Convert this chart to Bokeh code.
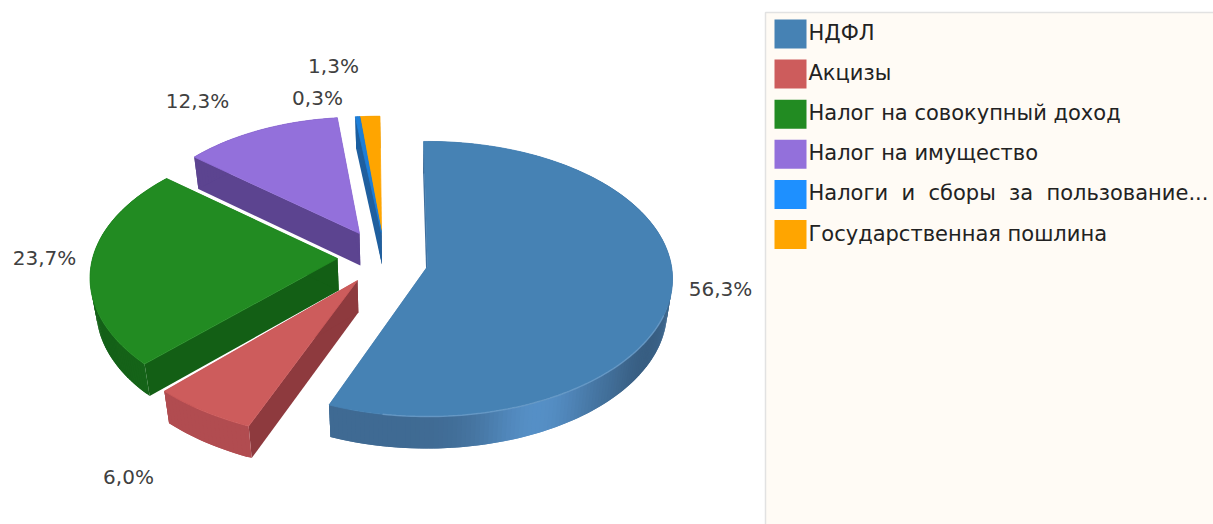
import math
from bokeh.plotting import figure
from bokeh.embed import file_html
from bokeh.resources import INLINE
from bokeh.core.properties import value

categories = ["НДФЛ", "Акцизы", "Налог на совокупный доход", "Налог на имущество",
              "Налоги \u00a0и \u00a0сборы \u00a0за \u00a0пользование...", "Государственная пошлина"]
shares = [56.3, 6.0, 23.7, 12.3, 0.3, 1.3]
share_labels = ["56,3%", "6,0%", "23,7%", "12,3%", "0,3%", "1,3%"]

top_colors = ["#4682B4", "#CD5C5C", "#228B22", "#9370DB", "#1E7FD8", "#FFA500"]
legend_colors = ["#4682B4", "#CD5C5C", "#228B22", "#9370DB", "#1E90FF", "#FFA500"]
arc_colors = ["#4a7cab", "#b14c50", "#18701c", "#5c4490", "#1a5ea0", "#c08a20"]
cut_colors = ["#3f6f9e", "#8e3a3e", "#135f15", "#5c4490", "#1f5f9f", "#55606a"]

# layout of the exploded pie, in page pixels
apex_x = [427, 357, 337, 359, 381, 381]
apex_y = [266, 280, 258, 233, 232, 232]
rim_dy = [0, 0, 7, 0, 0, 0]
rot_deg = [-1, 0, 3, 0, 0, 0]
scale_x = [1.0, 1.06, 1.01, 0.93, 1.1, 1.1]
scale_y = [1.0, 1.06, 1.0, 0.93, 0.93, 0.93]
label_x = [720, 128, 44, 197, 317, 333]
label_y = [288, 476, 257, 100, 97, 65]
RX, RY, PERSP, DEPTH = 244, 136.4, 0.0909, 32
DRAW_ORDER = [3, 5, 4, 2, 1, 0]


def mix(col, f):
    r, g, b = int(col[1:3], 16), int(col[3:5], 16), int(col[5:7], 16)
    return "#%02x%02x%02x" % tuple(min(255, int(c * f)) for c in (r, g, b))


def project(i, t):
    t = t + math.radians(rot_deg[i])
    u, v = math.sin(t), math.cos(t)
    s = 1 / (1 + PERSP * v)
    return (apex_x[i] + scale_x[i] * RX * u * s,
            apex_y[i] + rim_dy[i] - scale_y[i] * RY * v * s)


def drop(p):
    return (p[0] + 0.02 * (400 - p[0]), p[1] + DEPTH)


def arc_shade(i, t):
    if i == 0:
        u = math.sin(t)
        return 0.86 + 0.30 * math.exp(-((u - 0.40) / 0.22) ** 2) - 0.10 * math.exp(-((u - 0.85) / 0.12) ** 2)
    if i == 2:
        return 1.0 + 0.15 * math.sin(t)
    return 1.0


p = figure(width=1213, height=524, x_range=(0, 1213), y_range=(524, 0),
           output_backend="svg", toolbar_location=None, min_border=0,
           background_fill_color="white", border_fill_color="white", outline_line_color=None)
p.axis.visible = False
p.grid.visible = False

# legend panel
p.quad(left=[765], right=[1216], top=[12], bottom=[530], fill_color="#FFFBF5",
       line_color="#E2E2E2", line_width=1.5)

starts = [sum(shares[:i]) for i in range(len(shares))]
for i in DRAW_ORDER:
    a0 = math.radians(starts[i] * 3.6)
    a1 = math.radians((starts[i] + shares[i]) * 3.6)
    n = max(3, int(math.degrees(a1 - a0)))
    ts = [a0 + (a1 - a0) * k / n for k in range(n + 1)]
    rim = [project(i, t) for t in ts]
    apex = (apex_x[i], apex_y[i])

    xs, ys, cols = [], [], []
    for a, col in ((a0, cut_colors[i]), (a1, cut_colors[i])):
        q = project(i, a)
        quad = [apex, q, drop(q), drop(apex)]
        xs.append([c[0] for c in quad]); ys.append([c[1] for c in quad]); cols.append(col)
    for k in range(n):
        # each strip runs under the next one, so no seams show between them
        j = min(k + 2, n)
        quad = [rim[k], rim[j], drop(rim[j]), drop(rim[k])]
        xs.append([c[0] for c in quad]); ys.append([c[1] for c in quad])
        cols.append(mix(arc_colors[i], arc_shade(i, (ts[k] + ts[k + 1]) / 2)))
    p.patches(xs, ys, fill_color=cols, line_color=None)

    face = [apex] + rim
    p.patch([c[0] for c in face], [c[1] for c in face], fill_color=top_colors[i],
            line_color=top_colors[i], line_width=0.8)
    if i == 0:
        front = [project(i, t) for t in ts if math.cos(t) < -0.35 and math.sin(t) > -0.2]
        p.line([c[0] for c in front], [c[1] for c in front], line_color="#7aa8d2",
               line_width=1.5, line_alpha=0.55)

p.text(label_x, label_y, text=share_labels, text_font=value("DejaVu Sans"), text_font_size="20px",
       text_color="#404040", text_align="center", text_baseline="middle")

# legend
row = 40.1
for i, name in enumerate(categories):
    y0 = 19 + row * i
    p.quad(left=[774], right=[806], top=[y0], bottom=[y0 + 29],
           fill_color=legend_colors[i], line_color=None)
    p.text([808], [y0 + 13.5], text=[name], text_font=value("DejaVu Sans"), text_font_size="21px",
           text_color="#222222", text_align="left", text_baseline="middle")

open("out.html", "w").write(file_html(p, INLINE))
